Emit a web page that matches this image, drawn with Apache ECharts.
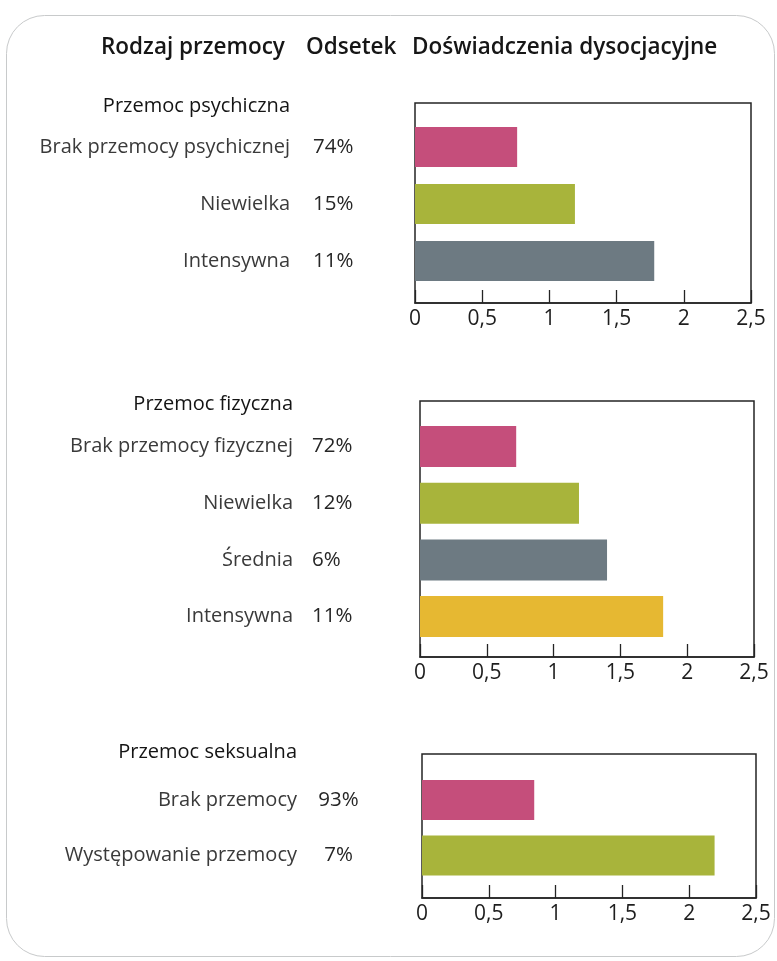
<!DOCTYPE html>
<html>
<head>
<meta charset="utf-8">
<script src="https://cdn.jsdelivr.net/npm/echarts@6/dist/echarts.min.js"></script>
<style>
  html, body { margin: 0; padding: 0; background: #fff; }
  #chart { width: 777px; height: 961px; }
</style>
</head>
<body>
<div id="chart"></div>
<script>
// Column headers
const headers = ['Rodzaj przemocy', 'Odsetek', 'Doświadczenia dysocjacyjne'];

// Shared axis ticks (dissociative experience score)
const tickValues = [0, 0.5, 1, 1.5, 2, 2.5];
const tickLabels = ['0', '0,5', '1', '1,5', '2', '2,5'];

// Psychological violence
const psychTitle = 'Przemoc psychiczna';
const psychCats = ['Brak przemocy psychicznej', 'Niewielka', 'Intensywna'];
const psychPct = ['74%', '15%', '11%'];
const psychVals = [0.76, 1.19, 1.78];

// Physical violence
const physTitle = 'Przemoc fizyczna';
const physCats = ['Brak przemocy fizycznej', 'Niewielka', 'Średnia', 'Intensywna'];
const physPct = ['72%', '12%', '6%', '11%'];
const physVals = [0.72, 1.19, 1.40, 1.82];

// Sexual violence
const sexTitle = 'Przemoc seksualna';
const sexCats = ['Brak przemocy', 'Występowanie przemocy'];
const sexPct = ['93%', '7%'];
const sexVals = [0.84, 2.19];

// Bar colours by severity level
const PINK = '#c54e7b', OLIVE = '#a8b43b', SLATE = '#6d7a82', GOLD = '#e6b832';

const FONT = '"Open Sans", "Noto Sans", sans-serif';

// Layout of each panel: outer box grid, inner bar band, label anchors
const panels = [
  { title: psychTitle, cats: psychCats, pct: psychPct, vals: psychVals,
    colors: [PINK, OLIVE, SLATE],
    box: { left: 415, top: 103, right: 26, height: 200 },
    band: { top: 118.5, height: 171 }, barWidth: 40,
    titleY: 106, nameRight: 290, pctX: 313, pctAlign: 'left' },
  { title: physTitle, cats: physCats, pct: physPct, vals: physVals,
    colors: [PINK, OLIVE, SLATE, GOLD],
    box: { left: 420, top: 401, right: 23, height: 256 },
    band: { top: 418.2, height: 226.7 }, barWidth: 41,
    titleY: 404, nameRight: 293, pctX: 312, pctAlign: 'left' },
  { title: sexTitle, cats: sexCats, pct: sexPct, vals: sexVals,
    colors: [PINK, OLIVE],
    box: { left: 422, top: 754, right: 21, height: 144 },
    band: { top: 772.3, height: 111 }, barWidth: 40,
    titleY: 752, nameRight: 297, pctX: 338.5, pctAlign: 'center' }
];

const grid = [], xAxis = [], yAxis = [], series = [], graphic = [];

// Rounded frame around the whole figure
graphic.push({
  type: 'rect', z: -10, silent: true,
  shape: { x: 6.5, y: 15.5, width: 768, height: 941, r: 38 },
  style: { fill: 'none', stroke: '#c8cacb', lineWidth: 1 }
});

// Column headers
[[101, headers[0]], [306, headers[1]], [412, headers[2]]].forEach(([x, t]) => {
  graphic.push({
    type: 'text', x: x, y: 48,
    style: { text: t, font: '600 22.5px ' + FONT, fill: '#161616',
             textAlign: 'left', textVerticalAlign: 'middle' }
  });
});

panels.forEach((p, i) => {
  const gBox = 2 * i, gBar = 2 * i + 1;
  const bandBottom = 961 - p.band.top - p.band.height;

  // Framed plotting box with the value axis
  grid.push({ left: p.box.left, top: p.box.top, right: p.box.right, height: p.box.height,
              outerBoundsMode: 'none', containLabel: false,
              show: true, borderColor: '#242424', borderWidth: 1.5,
              backgroundColor: 'transparent' });
  // Inner band holding the bars
  grid.push({ left: p.box.left, top: p.band.top, right: p.box.right, bottom: bandBottom,
              outerBoundsMode: 'none', containLabel: false });

  xAxis.push({
    gridIndex: gBox, type: 'value', min: 0, max: 2.5, interval: 0.5,
    axisLine: { show: true, lineStyle: { color: '#242424', width: 1.5 } },
    axisTick: { show: true, inside: true, length: 13,
                lineStyle: { color: '#242424', width: 1.3 } },
    splitLine: { show: false },
    axisLabel: {
      margin: 6, fontFamily: FONT, fontSize: 21, color: '#1e1e1e',
      formatter: v => tickLabels[tickValues.indexOf(Math.round(v * 2) / 2)] || ''
    }
  });
  xAxis.push({ gridIndex: gBar, type: 'value', min: 0, max: 2.5, show: false });

  yAxis.push({ gridIndex: gBox, type: 'value', show: false });
  // Category names, right-aligned
  yAxis.push({
    gridIndex: gBar, type: 'category', position: 'left', inverse: true, data: p.cats,
    axisLine: { show: false }, axisTick: { show: false }, splitLine: { show: false },
    axisLabel: { margin: p.box.left - p.nameRight, align: 'right',
                 fontFamily: FONT, fontSize: 20, color: '#3a3a3a' }
  });
  // Share of respondents
  yAxis.push({
    gridIndex: gBar, type: 'category', position: 'left', inverse: true, data: p.pct,
    axisLine: { show: false }, axisTick: { show: false }, splitLine: { show: false },
    axisLabel: { margin: p.box.left - p.pctX, align: p.pctAlign,
                 fontFamily: FONT, fontSize: 20.5, color: '#262626' }
  });

  series.push({
    type: 'bar', xAxisIndex: gBar, yAxisIndex: 3 * i + 1,
    barWidth: p.barWidth, silent: true, animation: false,
    data: p.vals.map((v, k) => ({ value: v, itemStyle: { color: p.colors[k] } }))
  });

  // Panel title
  graphic.push({
    type: 'text', x: p.nameRight, y: p.titleY,
    style: { text: p.title, font: '500 20px ' + FONT, fill: '#141414',
             textAlign: 'right', textVerticalAlign: 'middle' }
  });
});

const chart = echarts.init(document.getElementById('chart'), null, { renderer: 'canvas' });
chart.setOption({
  backgroundColor: '#ffffff',
  animation: false,
  grid, xAxis, yAxis, series, graphic
});
</script>
</body>
</html>
